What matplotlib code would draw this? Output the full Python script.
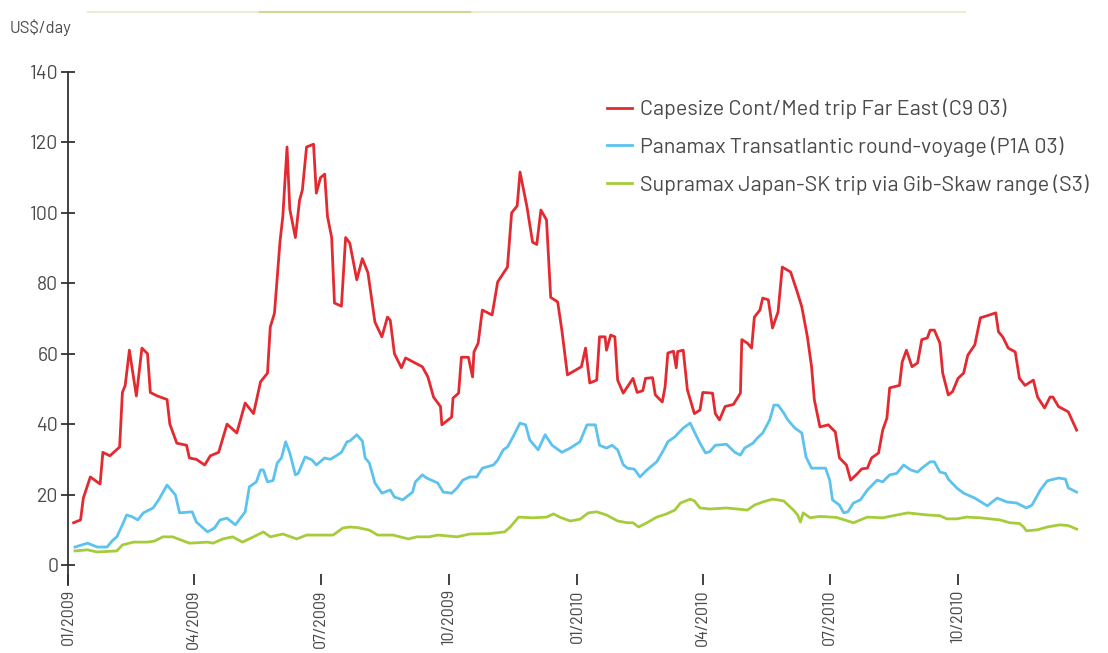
import numpy as np
import pandas as pd
from matplotlib import pyplot as plt
from matplotlib.lines import Line2D
import matplotlib.dates as mdates

#%% data, days counted from 01/01/2009, US$/day in thousands
start = pd.Timestamp('2009-01-01')

c9_days = [4, 9, 11, 16, 23, 25, 30, 37, 39, 41, 44, 49, 53, 57, 59, 64, 71, 73, 78, 85,
           87, 92, 98, 102, 108, 114, 121, 127, 133, 138, 143, 145, 148, 152, 154, 157, 159,
           163, 166, 168, 171, 176, 178, 181, 184, 186, 189, 191, 196, 199, 202, 207, 211,
           215, 220, 225, 229, 231, 234, 239, 242, 254, 258, 262, 267, 268, 275, 276, 280,
           282, 287, 290, 291, 294, 297, 304, 308, 315, 318, 322, 324, 329, 333, 336, 339,
           343, 346, 351, 354, 358, 368, 371, 374, 379, 381, 385, 386, 389, 392, 394, 398,
           401, 405, 408, 412, 414, 419, 421, 426, 428, 430, 434, 436, 437, 441, 444, 449,
           453, 455, 462, 464, 467, 471, 477, 482, 483, 487, 490, 492, 496, 498, 502, 505,
           509, 512, 518, 523, 526, 530, 533, 535, 539, 545, 550, 553, 558, 561, 566, 569,
           573, 576, 581, 584, 587, 589, 596, 598, 601, 605, 609, 612, 616, 618, 621, 625,
           627, 631, 634, 638, 642, 645, 650, 654, 659, 665, 667, 670, 674, 679, 682, 686,
           692, 695, 700, 704, 706, 710, 717, 723]
c9_vals = [12, 12.8, 19, 25, 23, 32, 31, 33.5, 49, 51, 61, 48, 61.6, 60, 49, 48, 47, 40, 34.6, 34,
           30.4, 30, 28.4, 31, 32, 40, 37.5, 46, 43, 52, 54.5, 67.6, 71.5, 92, 99, 118.7, 101,
           93, 103.6, 106.5, 118.7, 119.5, 105.6, 110, 111, 99, 93, 74.4, 73.5, 93, 91.4, 81, 87,
           83, 69, 64.8, 70.4, 69.5, 60, 56, 58.8, 56.3, 53.4, 47.7, 45, 39.8, 42, 47.4, 48.8,
           59, 59, 53.4, 60.5, 63, 72.4, 71, 80.4, 84.6, 100, 102, 111.6, 101.7, 91.7, 91, 100.8,
           98, 76, 74.7, 66.7, 54, 56.3, 61.6, 51.7, 52.5, 64.8, 64.8, 61, 65.3, 64.8, 52.5, 48.8,
           50.6, 53, 49, 49.5, 53, 53.2, 48.3, 46.3, 50.6, 60.2, 60.7, 56, 60.6, 61, 49.7, 43,
           44, 49, 48.8, 43, 41.2, 45, 45.6, 48.8, 64, 63, 61.6, 70.4, 72.4, 75.8, 75.3, 67.3,
           71.9, 84.6, 83.2, 77.2, 73.3, 64.8, 56.3, 46.9, 39.2, 39.8, 37.8, 30.4, 28.4, 24.1, 26, 27.3,
           27.5, 30.4, 31.8, 38.3, 41.7, 50.3, 51, 57.7, 61, 56.3, 57.4, 64, 64.5, 66.7, 66.7, 63,
           54.5, 48.3, 49.2, 53, 54.5, 59.6, 62.5, 70.2, 70.8, 71.6, 66.2, 64.8, 61.6, 60.5, 53,
           51, 52.5, 47.7, 44.6, 47.7, 47.7, 45, 43.5, 38.3]

p1a_days = [5, 14, 21, 28, 32, 35, 39, 42, 46, 50, 54, 61, 65, 71, 77, 80, 89, 92, 100, 105,
            109, 114, 120, 127, 130, 135, 138, 140, 143, 147, 150, 153, 156, 159, 163, 165, 170,
            175, 178, 184, 188, 193, 196, 200, 202, 207, 211, 213, 216, 220, 225, 231, 234, 240,
            247, 249, 254, 257, 265, 269, 275, 279, 283, 288, 293, 297, 305, 308, 312, 315, 319,
            324, 328, 331, 337, 342, 347, 354, 360, 367, 372, 378, 381, 386, 390, 394, 398, 401,
            406, 410, 415, 422, 427, 430, 435, 441, 446, 449, 453, 457, 460, 464, 472, 478, 482,
            485, 491, 494, 498, 503, 506, 509, 513, 516, 521, 526, 529, 533, 543, 546, 548, 553,
            556, 559, 563, 568, 573, 580, 584, 589, 594, 599, 604, 609, 613, 618, 621, 625, 629,
            631, 637, 642, 650, 659, 666, 673, 680, 687, 691, 697, 702, 710, 715, 717, 723]
p1a_vals = [5.1, 6.2, 5.1, 5.1, 7, 8, 11.4, 14.2, 13.7, 12.8, 14.8, 16.2, 18.5, 22.7, 19.9, 14.8,
            15.1, 12.2, 9.4, 10.5, 12.8, 13.3, 11.4, 15.1, 22.2, 23.6, 27, 27, 23.6, 24, 29, 30.4,
            35, 31.8, 25.6, 26, 30.7, 29.8, 28.4, 30.4, 30, 31.2, 32, 35, 35.2, 37, 35.2, 30.4, 29,
            23.3, 20.4, 21.3, 19.3, 18.5, 20.7, 23.6, 25.6, 24.7, 23.3, 20.7, 20.4, 21.9, 24.1, 25,
            25, 27.5, 28.4, 29.8, 32.7, 33.5, 36.4, 40.3, 39.8, 35.5, 32.7, 37, 34, 32, 33.2, 35,
            39.8, 39.8, 34, 33.2, 34, 32.7, 28.5, 27.5, 27.2, 25, 27, 29.3, 32.7, 35, 36.4, 38.9,
            40.3, 37.8, 34.6, 31.8, 32.2, 34, 34.3, 32, 31.2, 33.2, 34.6, 36, 37.5, 41.2, 45.4, 45.4,
            43.2, 41.2, 38.9, 37.5, 30.7, 27.5, 27.5, 24.1, 18.5, 17, 14.8, 15.1, 17.6, 18.5, 21.3,
            24.1, 23.6, 25.6, 26, 28.4, 27, 26.4, 27.8, 29.3, 29.3, 26.4, 26, 24.4, 21.9, 20.4, 19,
            16.8, 19, 17.9, 17.6, 16.2, 17, 21.3, 23.9, 24.7, 24.4, 21.9, 20.7]

s3_days = [5, 14, 21, 35, 39, 47, 57, 62, 68, 75, 87, 100, 104, 111, 118, 125, 133, 140, 145,
           154, 164, 171, 190, 197, 202, 208, 216, 222, 233, 244, 250, 259, 265, 279, 288, 302,
           313, 317, 323, 333, 343, 348, 353, 360, 367, 373, 379, 386, 394, 401, 405, 409, 415,
           422, 429, 435, 439, 446, 449, 453, 460, 472, 487, 492, 498, 505, 513, 520, 523, 525,
           527, 532, 539, 551, 563, 573, 584, 594, 602, 616, 625, 630, 637, 644, 654, 668, 675,
           682, 685, 687, 695, 702, 711, 717, 723]
s3_vals = [4, 4.3, 3.7, 4, 5.7, 6.5, 6.5, 6.8, 8, 8, 6.2, 6.5, 6.2, 7.4, 8, 6.5, 8, 9.4, 8,
           8.8, 7.4, 8.5, 8.5, 10.5, 10.8, 10.6, 9.9, 8.5, 8.5, 7.4, 8, 8, 8.5, 8, 8.8, 8.9,
           9.4, 10.8, 13.6, 13.4, 13.6, 14.5, 13.5, 12.5, 13, 14.8, 15.1, 14.2, 12.5, 12, 12, 10.8, 12,
           13.6, 14.5, 15.6, 17.6, 18.7, 18.2, 16.2, 15.9, 16.2, 15.6, 17, 17.9, 18.7, 18.2, 15.6, 14.2, 12.2,
           14.8, 13.4, 13.8, 13.5, 12, 13.6, 13.4, 14.2, 14.8, 14.2, 14, 13.1, 13.1, 13.6, 13.4, 12.8, 12,
           11.8, 10.8, 9.7, 10, 10.8, 11.4, 11.2, 10.2]

labels = ['Capesize Cont/Med trip Far East (C9 03)',
          'Panamax Transatlantic round-voyage (P1A 03)',
          'Supramax Japan-SK trip via Gib-Skaw range (S3)']
colors = ['#e42a31', '#5cc2ee', '#a6cc3c']

tick_dates = pd.date_range('2009-01-01', '2010-10-01', freq='3MS')
y_ticks = [0, 20, 40, 60, 80, 100, 120, 140]

#%% plot
plt.rcParams['font.family'] = ['Barlow', 'DejaVu Sans']
txt_col = '#4a4a4a'

fig = plt.figure(figsize=(11.08, 6.53), dpi=100)
ax = fig.add_axes([68/1108, 1-585/653, 1017/1108, 513/653])

series = [(c9_days, c9_vals), (p1a_days, p1a_vals), (s3_days, s3_vals)]
for (d, v), lab, col in zip(series, labels, colors):
    x = start + pd.to_timedelta(d, unit='D')
    ax.plot(x, v, color=col, lw=2.0, label=lab, solid_joinstyle='round')

ax.set_ylim(-5.68, 140)
ax.set_xlim(start, pd.Timestamp('2010-12-31'))
ax.set_yticks(y_ticks)
ax.set_xticks(tick_dates)
ax.xaxis.set_major_formatter(mdates.DateFormatter('%m/%Y'))

for s in ['top', 'right', 'bottom']:
    ax.spines[s].set_visible(False)
ax.spines['left'].set_color('#333333')
ax.spines['left'].set_linewidth(1.3)

ax.tick_params(axis='y', direction='inout', length=10, width=1.3, color='#333333',
               labelsize=14, labelcolor=txt_col, pad=2)
ax.tick_params(axis='x', direction='in', length=8, width=1.3, color='#333333',
               labelsize=13, labelcolor=txt_col, pad=3, labelrotation=90)
for t in ax.get_xticklabels():
    t.set_family(['Barlow Semi Condensed', 'DejaVu Sans'])

fig.text(10/1108, 1-28/653, 'US$/day', fontsize=12, color=txt_col, va='center', ha='left')

# thin decorative line at the top
fig.add_artist(Line2D([88/1108, 965/1108], [1-12/653, 1-12/653], color='#e8eed6', lw=1.5))
fig.add_artist(Line2D([260/1108, 470/1108], [1-12/653, 1-12/653], color='#cbdb96', lw=1.5))

leg = ax.legend(loc='upper left', bbox_to_anchor=(598/1108, 1-90/653), bbox_transform=fig.transFigure,
                frameon=False, fontsize=15.5, handlelength=1.2, handletextpad=0.35,
                labelspacing=0.8, borderaxespad=0)
for t in leg.get_texts():
    t.set_color(txt_col)

fig.savefig('out.png', dpi=100)
